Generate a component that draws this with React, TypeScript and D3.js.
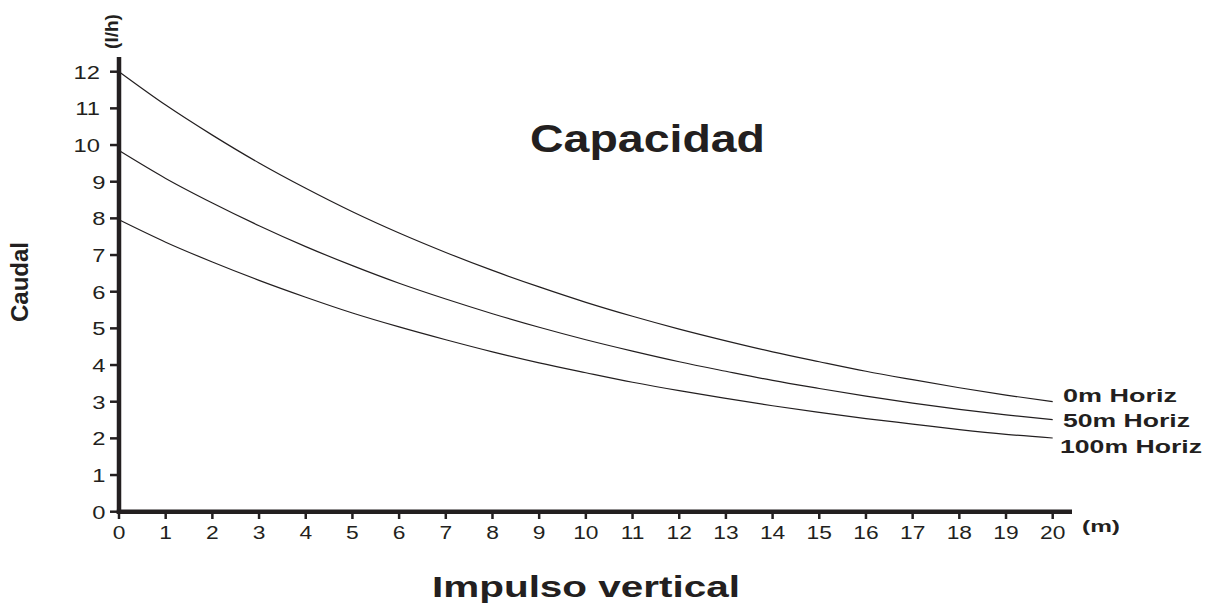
import React from "react";
import * as d3 from "d3";

const xTicks = [0, 1, 2, 3, 4, 5, 6, 7, 8, 9, 10, 11, 12, 13, 14, 15, 16, 17, 18, 19, 20];
const yTicks = [0, 1, 2, 3, 4, 5, 6, 7, 8, 9, 10, 11, 12];
const impulso = [0, 1, 2, 3, 4, 5, 6, 7, 8, 9, 10, 11, 12, 13, 14, 15, 16, 17, 18, 19, 20];
const caudal0m = [12.0, 11.09, 10.27, 9.51, 8.82, 8.18, 7.6, 7.07, 6.58, 6.13, 5.71, 5.33, 4.98, 4.66, 4.36, 4.09, 3.83, 3.6, 3.38, 3.18, 3.0];
const caudal50m = [9.85, 9.09, 8.42, 7.8, 7.23, 6.71, 6.23, 5.8, 5.4, 5.03, 4.69, 4.38, 4.09, 3.83, 3.58, 3.36, 3.15, 2.96, 2.79, 2.64, 2.51];
const caudal100m = [7.96, 7.35, 6.81, 6.31, 5.85, 5.42, 5.04, 4.69, 4.36, 4.06, 3.79, 3.53, 3.3, 3.09, 2.89, 2.71, 2.54, 2.39, 2.24, 2.11, 2.01];
const seriesNames = ["0m Horiz", "50m Horiz", "100m Horiz"];
const seriesValues = [caudal0m, caudal50m, caudal100m];

const INK = "#231f20";
const FONT = "Arial, 'Liberation Sans', Helvetica, sans-serif";

export default function App() {
  const W = 1206;
  const H = 605;
  const x = d3.scaleLinear().domain([0, 20]).range([119, 1052.7]);
  const y = d3.scaleLinear().domain([0, 12]).range([511.7, 71.7]);
  const line = d3
    .line<[number, number]>()
    .x((d) => x(d[0]))
    .y((d) => y(d[1]))
    .curve(d3.curveMonotoneX);

  const legendLayout = [
    { baseline: 402, left: 1063, len: 114 },
    { baseline: 426.5, left: 1063, len: 127 },
    { baseline: 453, left: 1060, len: 142 },
  ];

  return (
    <svg
      width={W}
      height={H}
      style={{ position: "absolute", left: 0, top: 0, background: "#fff" }}
      fontFamily={FONT}
    >
      <rect x={0} y={0} width={W} height={H} fill="#fff" />
      {seriesValues.map((vals, i) => (
        <path
          key={seriesNames[i]}
          d={line(impulso.map((v, j) => [v, vals[j]] as [number, number])) || ""}
          fill="none"
          stroke={INK}
          strokeWidth={1.2}
        />
      ))}
      {yTicks.map((t) => (
        <g key={"y" + t}>
          <line x1={110} x2={119} y1={y(t)} y2={y(t)} stroke={INK} strokeWidth={2.5} />
          <text
            transform={`translate(${t >= 10 ? 100 : 105.5},${y(t) + 6.8}) scale(1.25,1)`}
            textAnchor="end"
            fontSize={19}
            fill={INK}
          >
            {t}
          </text>
        </g>
      ))}
      {xTicks.map((t) => (
        <g key={"x" + t}>
          <line x1={x(t)} x2={x(t)} y1={511} y2={519} stroke={INK} strokeWidth={2.5} />
          <text
            transform={`translate(${x(t)},${538.5}) scale(1.2,1)`}
            textAnchor="middle"
            fontSize={19}
            fill={INK}
          >
            {t}
          </text>
        </g>
      ))}
      <line x1={119} x2={119} y1={57} y2={514} stroke={INK} strokeWidth={4.5} />
      <line x1={116.8} x2={1072} y1={511.7} y2={511.7} stroke={INK} strokeWidth={4.5} />

      {seriesNames.map((n, i) => (
        <text
          key={"lab" + n}
          x={legendLayout[i].left}
          y={legendLayout[i].baseline}
          fontSize={18.5}
          fontWeight="bold"
          fill={INK}
          textLength={legendLayout[i].len}
          lengthAdjust="spacingAndGlyphs"
        >
          {n}
        </text>
      ))}

      <text x={1082} y={532} fontSize={17} fontWeight="bold" fill={INK} textLength={38} lengthAdjust="spacingAndGlyphs">
        (m)
      </text>
      <text
        transform="translate(118,31.5) rotate(-90)"
        textAnchor="middle"
        fontSize={19}
        fontWeight="bold"
        fill={INK}
      >
        (l/h)
      </text>

      <text
        x={530}
        y={152}
        fontSize={39}
        fontWeight="bold"
        fill={INK}
        textLength={235}
        lengthAdjust="spacingAndGlyphs"
      >
        Capacidad
      </text>
      <text
        x={432}
        y={597}
        fontSize={30}
        fontWeight="bold"
        fill={INK}
        textLength={308}
        lengthAdjust="spacingAndGlyphs"
      >
        Impulso vertical
      </text>
      <text
        transform="translate(28,322) rotate(-90)"
        fontSize={23}
        fontWeight="bold"
        fill={INK}
        textLength={80}
        lengthAdjust="spacingAndGlyphs"
      >
        Caudal
      </text>
    </svg>
  );
}
